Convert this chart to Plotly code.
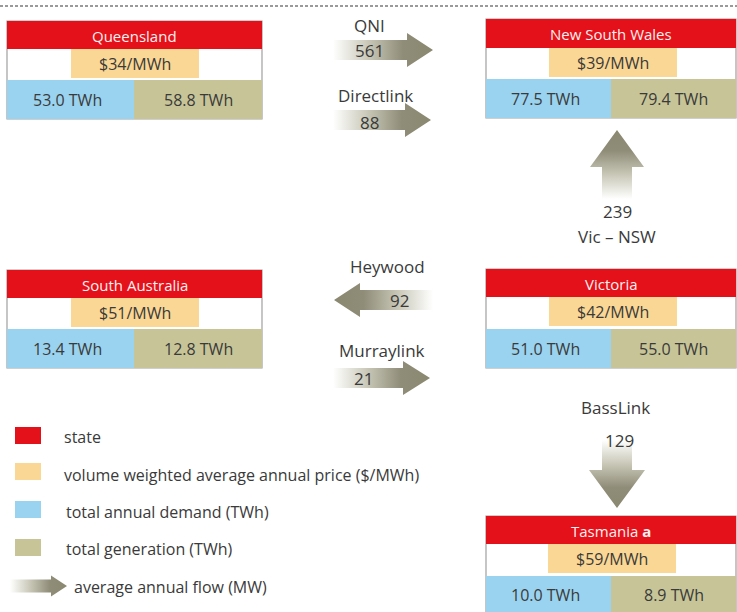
import plotly.graph_objects as go

# ---------------- data ----------------
states = ["Queensland", "New South Wales", "South Australia", "Victoria", "Tasmania"]
state_suffix = ["", "", "", "", " <b>a</b>"]
prices = [34, 39, 51, 42, 59]            # $/MWh
demand = [53.0, 77.5, 13.4, 51.0, 10.0]  # TWh
generation = [58.8, 79.4, 12.8, 55.0, 8.9]  # TWh

links = ["QNI", "Directlink", "Vic – NSW", "Heywood", "Murraylink", "BassLink"]
flows = [561, 88, 239, 92, 21, 129]  # MW

legend_labels = ["state", "volume weighted average annual price ($/MWh)",
                 "total annual demand (TWh)", "total generation (TWh)",
                 "average annual flow (MW)"]

# ---------------- styles ----------------
RED = "#e4111a"
ORANGE = "#fad794"
BLUE = "#9ad3ef"
OLIVE = "#c7c597"
BORDER = "#a0a0a0"
TXT = "#3a3a3a"
FONT = "Open Sans"
ARROW_SCALE = [[0, "rgba(255,255,255,1)"], [0.35, "#c9c8b8"], [0.7, "#8f8d78"], [1, "#8a8870"]]
ARROW_SCALE_R = [[1 - s, c] for s, c in reversed(ARROW_SCALE)]

# ---------------- layout positions (pixels) ----------------
boxes = [
    dict(l=7, r=262, t=21, hb=49, pl=71, pr=199, pb=78, rt=80, rb=119, s=134),
    dict(l=486, r=736, t=19, hb=48, pl=549, pr=677, pb=77, rt=79, rb=118, s=611),
    dict(l=7, r=262, t=270, hb=298, pl=71, pr=199, pb=327, rt=329, rb=368, s=134),
    dict(l=486, r=736, t=269, hb=297, pl=549, pr=677, pb=326, rt=329, rb=368, s=611),
    dict(l=486, r=736, t=516, hb=544, pl=548, pr=676, pb=573, rt=576, rb=616, s=611),
]

arrows = [
    dict(tail=(333, 50), tip=(433, 50), bw=10, hw=17, hl=26, name_xy=(369, 25), val_xy=(369, 50)),
    dict(tail=(333, 120), tip=(431, 120), bw=10, hw=17, hl=26, name_xy=(375, 95), val_xy=(369, 122)),
    dict(tail=(617, 199), tip=(617, 130), bw=15, hw=27, hl=37, name_xy=(617, 236), val_xy=(617, 211)),
    dict(tail=(433, 300), tip=(334, 300), bw=10, hw=17, hl=26, name_xy=(387, 266), val_xy=(399, 300)),
    dict(tail=(333, 378), tip=(430, 378), bw=10, hw=17, hl=27, name_xy=(382, 350), val_xy=(363, 378)),
    dict(tail=(617, 440), tip=(617, 508), bw=15, hw=28, hl=38, name_xy=(615, 407), val_xy=(619, 440)),
]

fig = go.Figure()
shapes = []
ann = []


def add_arrow(a):
    (x0, y0), (x1, y1) = a["tail"], a["tip"]
    L = ((x1 - x0) ** 2 + (y1 - y0) ** 2) ** 0.5
    dx, dy = (x1 - x0) / L, (y1 - y0) / L
    px, py = -dy, dx
    bx, by = x1 - dx * a["hl"], y1 - dy * a["hl"]
    pts = [
        (x0 + px * a["bw"], y0 + py * a["bw"]),
        (bx + px * a["bw"], by + py * a["bw"]),
        (bx + px * a["hw"], by + py * a["hw"]),
        (x1, y1),
        (bx - px * a["hw"], by - py * a["hw"]),
        (bx - px * a["bw"], by - py * a["bw"]),
        (x0 - px * a["bw"], y0 - py * a["bw"]),
        (x0 + px * a["bw"], y0 + py * a["bw"]),
    ]
    if abs(dx) > abs(dy):
        lo, hi = min(x0, x1), max(x0, x1)
        scale = ARROW_SCALE if x1 > x0 else ARROW_SCALE_R
        gtype = "horizontal"
    else:
        lo, hi = min(y0, y1), max(y0, y1)
        scale = ARROW_SCALE if y1 > y0 else ARROW_SCALE_R
        gtype = "vertical"
    fig.add_trace(go.Scatter(
        x=[p[0] for p in pts], y=[p[1] for p in pts], mode="lines",
        line=dict(width=0), fill="toself",
        fillgradient=dict(type=gtype, colorscale=scale, start=lo, stop=hi),
        hoverinfo="skip", showlegend=False))


for a in arrows:
    add_arrow(a)

for i, a in enumerate(arrows):
    ann.append(dict(x=a["name_xy"][0], y=a["name_xy"][1], text=links[i],
                    font=dict(size=17, color=TXT, family=FONT)))
    ann.append(dict(x=a["val_xy"][0], y=a["val_xy"][1], text=str(flows[i]),
                    font=dict(size=17, color=TXT, family=FONT)))

# state boxes
for i, b in enumerate(boxes):
    shapes.append(dict(type="rect", x0=b["l"], x1=b["r"], y0=b["t"], y1=b["rb"],
                       line=dict(color=BORDER, width=1.2), fillcolor="white", layer="below"))
    shapes.append(dict(type="rect", x0=b["l"], x1=b["r"], y0=b["t"], y1=b["hb"],
                       line=dict(width=0), fillcolor=RED, layer="above"))
    shapes.append(dict(type="rect", x0=b["pl"], x1=b["pr"], y0=b["hb"], y1=b["pb"],
                       line=dict(width=0), fillcolor=ORANGE, layer="above"))
    shapes.append(dict(type="rect", x0=b["l"], x1=b["s"], y0=b["rt"], y1=b["rb"],
                       line=dict(width=0), fillcolor=BLUE, layer="above"))
    shapes.append(dict(type="rect", x0=b["s"], x1=b["r"], y0=b["rt"], y1=b["rb"],
                       line=dict(width=0), fillcolor=OLIVE, layer="above"))
    ann.append(dict(x=(b["l"] + b["r"]) / 2, y=(b["t"] + b["hb"]) / 2 + 0.5,
                    text=states[i] + state_suffix[i],
                    font=dict(size=15, color="#fdf0f0", family=FONT)))
    ann.append(dict(x=(b["pl"] + b["pr"]) / 2, y=(b["hb"] + b["pb"]) / 2 + 0.5,
                    text=f"${prices[i]}/MWh", font=dict(size=16, color=TXT, family=FONT)))
    ycell = (b["rt"] + b["rb"]) / 2 if b["rb"] <= 612 else (b["rt"] + 612) / 2 + 0.5
    ann.append(dict(x=(b["l"] + b["s"]) / 2 - 3, y=ycell,
                    text=f"{demand[i]:.1f} TWh", font=dict(size=16, color=TXT, family=FONT)))
    ann.append(dict(x=(b["s"] + b["r"]) / 2, y=ycell,
                    text=f"{generation[i]:.1f} TWh", font=dict(size=16, color=TXT, family=FONT)))

# dashed separator
shapes.append(dict(type="line", x0=0, x1=737, y0=6, y1=6,
                   line=dict(color="#7a7a7a", width=1.4, dash="3px,2px")))

# legend
leg_colors = [RED, ORANGE, BLUE, OLIVE]
leg_y = [(427, 444), (463, 480), (501, 518), (539, 556)]
leg_text_y = [437, 475, 512, 549, 587]
leg_text_x = [62, 62, 64, 64, 72]
for c, (y0, y1) in zip(leg_colors, leg_y):
    shapes.append(dict(type="rect", x0=15, x1=41, y0=y0, y1=y1,
                       line=dict(width=0), fillcolor=c))
add_arrow(dict(tail=(10, 586), tip=(67, 586), bw=6.5, hw=10.5, hl=16))
for t, x, y in zip(legend_labels, leg_text_x, leg_text_y):
    ann.append(dict(x=x, y=y, text=t, xanchor="left",
                    font=dict(size=16, color=TXT, family=FONT)))

for a in ann:
    a.setdefault("xanchor", "center")
    a.update(yanchor="middle", showarrow=False, xref="x", yref="y")

fig.update_layout(
    width=737, height=612, margin=dict(l=0, r=0, t=0, b=0),
    paper_bgcolor="white", plot_bgcolor="white",
    xaxis=dict(range=[0, 737], visible=False, fixedrange=True),
    yaxis=dict(range=[612, 0], visible=False, fixedrange=True),
    shapes=shapes, annotations=ann, showlegend=False, hovermode=False,
)

fig.write_html("out.html", config={"displayModeBar": False, "staticPlot": True},
               post_script="document.body.style.margin='0';document.body.style.overflow='hidden';")
